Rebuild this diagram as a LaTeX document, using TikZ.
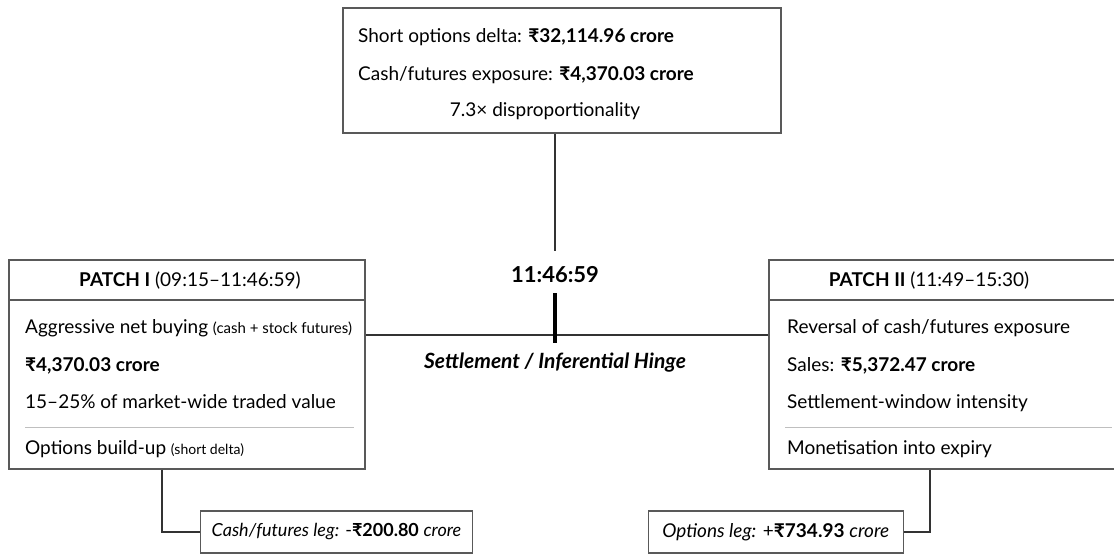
\documentclass[tikz,border=0pt]{standalone}
\usepackage{fontspec}
\setmainfont{Lato}
\begin{document}
\begin{tikzpicture}[x=1pt, y=-1pt, font=\fontsize{19}{22}\selectfont]
  \tikzstyle{panel} = [
    rectangle,
    draw=black!65,
    line width=1.4pt,
    inner sep=0pt
  ]

  \tikzstyle{legbox} = [
    rectangle,
    draw=black!65,
    line width=1.4pt,
    inner ysep=0pt,
    minimum height=42pt
  ]

  \tikzstyle{entry} = [
    anchor=base west,
    inner sep=0pt
  ]

  \tikzstyle{header} = [
    anchor=base,
    inner sep=0pt
  ]

  \tikzstyle{boxline} = [
    draw=black!65,
    line width=1.4pt
  ]

  \tikzstyle{thinrule} = [
    draw=black!25,
    line width=0.8pt
  ]

  \tikzstyle{link} = [
    draw=black!80,
    line width=1.4pt
  ]

  \clip (0,0) rectangle (1114,556);

  \node[panel, minimum width=438pt, minimum height=125pt] (summary) at (562,70.5) {};
  \node[entry] (deltaline) at (358,43) {Short options delta: \textbf{₹32,114.96 crore}};
  \node[entry] (exposureline) at (358,81) {Cash/futures exposure: \textbf{₹4,370.03 crore}};
  \node[header] (ratioline) at (545,117) {7.3× disproportionality};

  \node[panel, minimum width=356pt, minimum height=209pt] (patchone) at (187,364.5) {};
  \draw[boxline] (patchone.west |- 0,300) -- (patchone.east |- 0,300);
  \node[header] (patchonetitle) at (190,287) {\textbf{PATCH I} (09:15–11:46:59)};
  \node[entry] (buyline) at (25,333) {Aggressive net buying {\fontsize{15}{18}\selectfont(cash + stock futures)}};
  \node[entry] (buyvalue) at (25,371) {\textbf{₹4,370.03 crore}};
  \node[entry] (shareline) at (25,408) {15–25\% of market-wide traded value};
  \draw[thinrule] (25,427) -- (354,427);
  \node[entry] (buildline) at (25,454) {Options build-up {\fontsize{14}{17}\selectfont(short delta)}};

  \node[panel, minimum width=356pt, minimum height=209pt] (patchtwo) at (947,364.5) {};
  \draw[boxline] (patchtwo.west |- 0,300) -- (patchtwo.east |- 0,300);
  \node[header] (patchtwotitle) at (929,287) {\textbf{PATCH II} (11:49–15:30)};
  \node[entry] (reversalline) at (787,333) {Reversal of cash/futures exposure};
  \node[entry] (salesline) at (787,371) {Sales: \textbf{₹5,372.47 crore}};
  \node[entry] (windowline) at (787,408) {Settlement-window intensity};
  \draw[thinrule] (785,427) -- (1112,427);
  \node[entry] (expiryline) at (787,454) {Monetisation into expiry};

  \coordinate (hinge) at (555,335);
  \draw[link] (summary.south -| hinge) -- ++(0,117);
  \node[header, font=\fontsize{22}{26}\selectfont\bfseries] (hingetime) at (555,282) {11:46:59};
  \draw[link] (patchone.east |- hinge) -- (patchtwo.west |- hinge);
  \draw[line width=4.5pt] ([yshift=42pt]hinge) -- ([yshift=-8pt]hinge);
  \node[header, font=\fontsize{21}{24}\selectfont] (hingelabel) at (555,368) {\bfseries\itshape Settlement / Inferential Hinge};

  \node[legbox, anchor=west, inner xsep=11pt, font=\fontsize{18}{21}\selectfont] (cashleg) at (200,532)
    {\textit{Cash/futures leg:} -\textbf{₹200.80} \textit{crore}};
  \node[legbox, anchor=east, inner xsep=14pt] (optionsleg) at (904,532)
    {\textit{Options leg:} +\textbf{₹734.93} \textit{crore}};

  \draw[link] ([xshift=-25pt]patchone.south) |- (cashleg.west);
  \draw[link] ([xshift=-17pt]patchtwo.south) |- (optionsleg.east);
\end{tikzpicture}
\end{document}
